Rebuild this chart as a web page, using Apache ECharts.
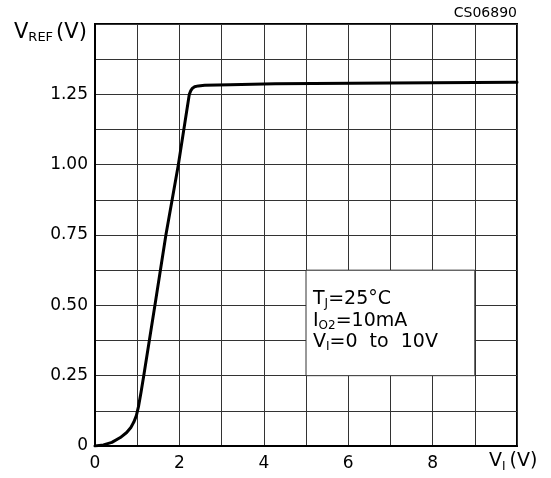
<!DOCTYPE html>
<html>
<head>
<meta charset="utf-8">
<script src="https://cdn.jsdelivr.net/npm/echarts@6/dist/echarts.min.js"></script>
<style>
html,body{margin:0;padding:0;background:#fff;}
#chart{width:551px;height:478px;}
</style>
</head>
<body>
<div id="chart"></div>
<script>
// Data: V_I (V) vs V_REF (V)
var vIn  = [0, 0.2, 0.4, 0.6, 0.75, 0.85, 0.92, 0.98, 1.03, 1.09, 1.155, 1.42, 1.68, 1.975, 2.235, 2.27, 2.31, 2.36, 2.45, 2.6, 3.2, 4.27, 7.0, 10.0];
var vRef = [0, 0.004, 0.013, 0.03, 0.048, 0.066, 0.085, 0.108, 0.14, 0.19, 0.25, 0.5, 0.75, 1.0, 1.25, 1.263, 1.272, 1.277, 1.28, 1.282, 1.284, 1.288, 1.290, 1.293];

var xTickValues = [0, 2, 4, 6, 8];
var xTickLabels = ['0', '2', '4', '6', '8'];
var yTickValues = [0, 0.25, 0.5, 0.75, 1.0, 1.25];
var yTickLabels = ['0', '0.25', '0.50', '0.75', '1.00', '1.25'];

var FONT = 'DejaVu Sans';

function lookup(v, vals, labs) {
  for (var i = 0; i < vals.length; i++) {
    if (Math.abs(v - vals[i]) < 1e-6) return labs[i];
  }
  return '';
}

var chart = echarts.init(document.getElementById('chart'), null, {renderer: 'canvas'});

var pts = vIn.map(function (x, i) { return [x, vRef[i]]; });

chart.setOption({
  animation: false,
  backgroundColor: '#fff',
  grid: {
    left: 95, right: 34, top: 24, bottom: 32,
    show: true, borderColor: '#000', borderWidth: 2, backgroundColor: 'transparent'
  },
  xAxis: {
    type: 'value', min: 0, max: 10, interval: 1,
    axisLine: {show: true, lineStyle: {color: '#000', width: 2}},
    axisTick: {show: false},
    splitLine: {show: true, lineStyle: {color: '#333', width: 1}},
    axisLabel: {
      color: '#000', fontFamily: FONT, fontSize: 17, margin: 9,
      formatter: function (v) { return lookup(v, xTickValues, xTickLabels); }
    }
  },
  yAxis: {
    type: 'value', min: 0, max: 1.5, interval: 0.125,
    axisLine: {show: true, lineStyle: {color: '#000', width: 2}},
    axisTick: {show: false},
    splitLine: {show: true, lineStyle: {color: '#333', width: 1}},
    axisLabel: {
      color: '#000', fontFamily: FONT, fontSize: 17, margin: 7,
      formatter: function (v) { return lookup(v, yTickValues, yTickLabels); }
    }
  },
  series: [{
    type: 'line',
    data: pts,
    smooth: false,
    showSymbol: false,
    lineStyle: {color: '#000', width: 3, join: 'round', cap: 'round'},
    z: 5,
    markArea: {
      silent: true,
      itemStyle: {color: '#fff', borderColor: '#333', borderWidth: 1},
      data: [[{coord: [5, 0.625]}, {coord: [9, 0.25]}]]
    }
  }],
  graphic: [
    {
      type: 'text', right: 34, top: 6, z: 10,
      style: {text: 'CS06890', fontFamily: FONT, fontSize: 14, fill: '#000'}
    },
    {
      type: 'text', left: 14, top: 22, z: 10,
      style: {
        text: '{a|V}{s|REF}{a|(V)}',
        rich: {
          a: {fontFamily: FONT, fontSize: 21, lineHeight: 24, fill: '#000'},
          s: {fontFamily: FONT, fontSize: 13, lineHeight: 16, verticalAlign: 'bottom', fill: '#000', padding: [0, 3, 0, 0]}
        }
      }
    },
    {
      type: 'text', left: 489, top: 452, z: 10,
      style: {
        text: '{a|V}{s|I}{a|(V)}',
        rich: {
          a: {fontFamily: FONT, fontSize: 19, lineHeight: 22, fill: '#000'},
          s: {fontFamily: FONT, fontSize: 12, lineHeight: 14, verticalAlign: 'bottom', fill: '#000', padding: [0, 4, 0, 0]}
        }
      }
    },
    {
      type: 'text', left: 313, top: 290, z: 10,
      style: {
        text: '{a|T}{s|J}{a|=25°C}\n{a|I}{s|O2}{a|=10mA}\n{a|V}{s|I}{a|=0  to  10V}',
        rich: {
          a: {fontFamily: FONT, fontSize: 19, lineHeight: 21.5, fill: '#000'},
          s: {fontFamily: FONT, fontSize: 12, lineHeight: 13, verticalAlign: 'bottom', fill: '#000'}
        }
      }
    }
  ]
});
</script>
</body>
</html>
